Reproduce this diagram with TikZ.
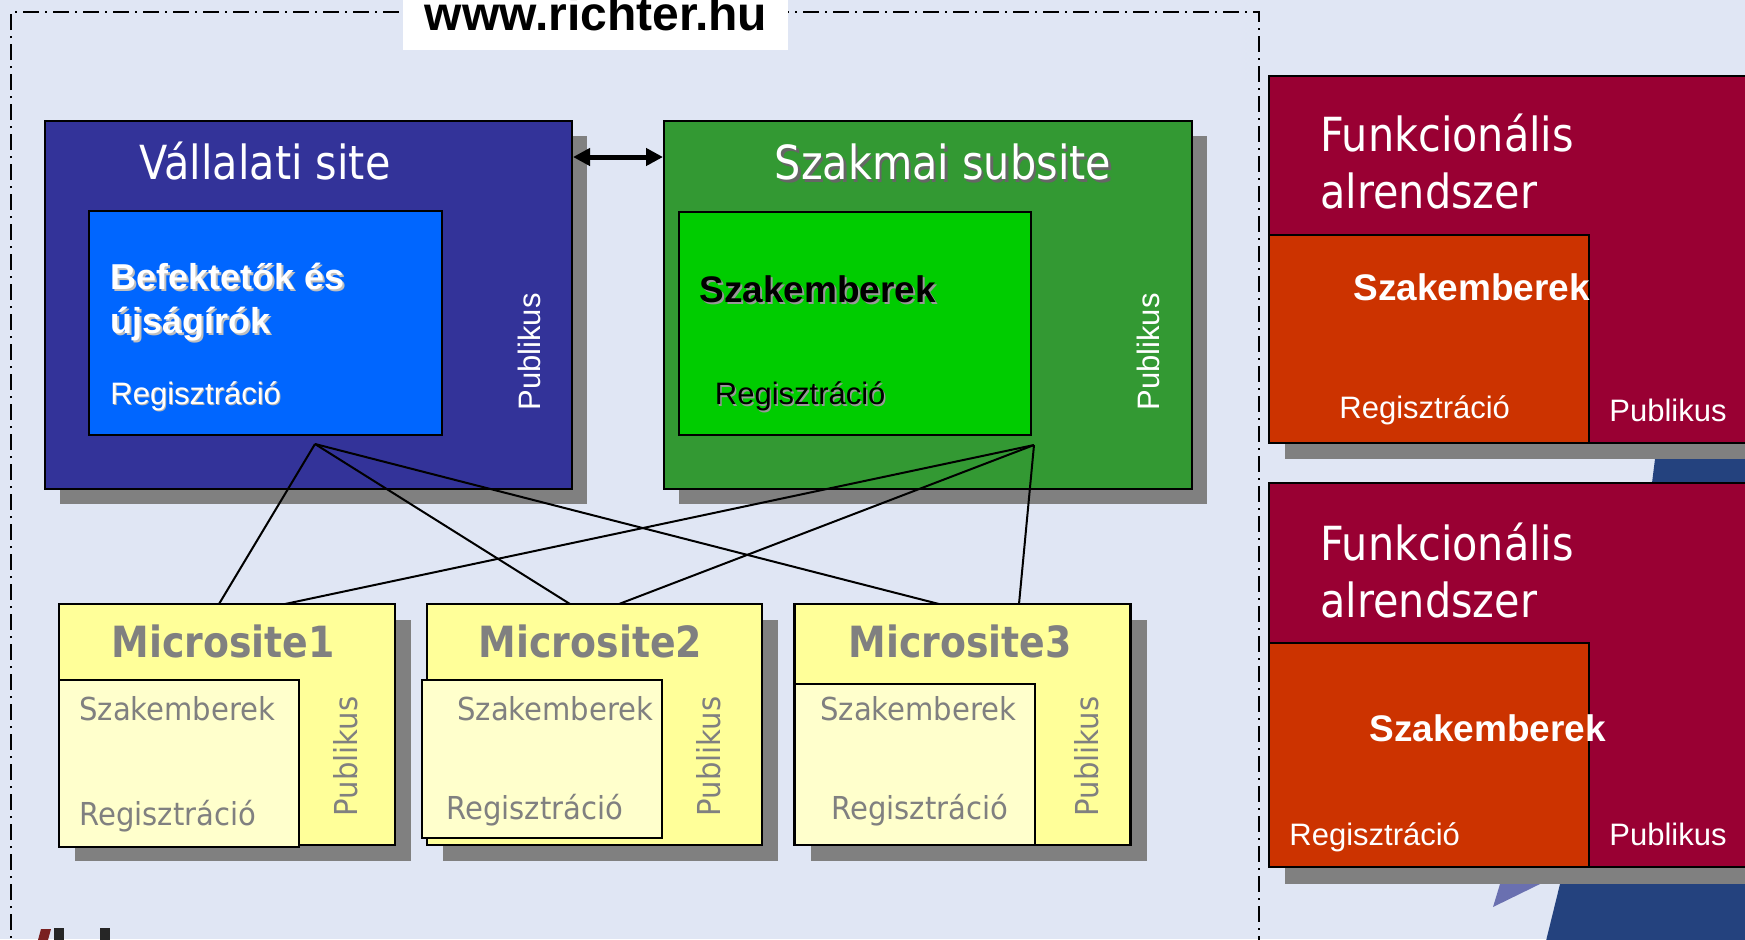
\documentclass[tikz,border=0pt]{standalone}
\usepackage{fontspec}
\setmainfont{Liberation Sans}
\newfontfamily\tah[FakeStretch=0.88]{DejaVu Sans}
\newfontfamily\tahw[FakeStretch=0.92]{DejaVu Sans}
\usetikzlibrary{arrows.meta,fit}
\definecolor{bgc}{HTML}{E0E6F4}
\definecolor{vblue}{HTML}{333399}
\definecolor{lblue}{HTML}{0066FF}
\definecolor{dgreen}{HTML}{339933}
\definecolor{lgreen}{HTML}{00CC00}
\definecolor{yel}{HTML}{FFFF99}
\definecolor{lyel}{HTML}{FFFFCC}
\definecolor{grayt}{HTML}{808080}
\definecolor{shadowc}{HTML}{808080}
\definecolor{crim}{HTML}{990033}
\definecolor{oran}{HTML}{CC3300}
\definecolor{deco}{HTML}{24427E}
\definecolor{decol}{HTML}{6A70B0}
\definecolor{logored}{HTML}{7A2020}
\newcommand{\myfs}[1]{\fontsize{#1}{#1}\selectfont}
\tikzset{
  box/.style={draw=black, line width=1pt, inner sep=0pt},
  ybox/.style={draw=black, line width=1.4pt, inner sep=0pt},
  txt/.style={inner sep=0pt, anchor=base west},
  ttl/.style={txt, text=white, font=\tah\myfs{23.5pt}},
  bigbold/.style={txt, font=\bfseries\myfs{18pt}},
  reg/.style={txt, font=\myfs{15.5pt}},
  pub/.style={inner sep=0pt, rotate=90, anchor=center, font=\myfs{15.5pt}},
  mtitle/.style={txt, text=grayt, font=\tah\bfseries\myfs{21.5pt}},
  mtext/.style={txt, text=grayt, font=\tahw\myfs{15.8pt}},
  mpub/.style={pub, text=grayt, font=\tahw\myfs{15.8pt}},
  conn/.style={draw=black, line width=1pt},
}
\begin{document}
\begin{tikzpicture}[x=0.5pt,y=-0.5pt]
\useasboundingbox (0,0) rectangle (1745,939);
\clip (0,0) rectangle (1745,939);
\fill[bgc] (0,0) rectangle (1745,939);

% decorative background shapes
\fill[deco] (1655,459) -- (1760,459) -- (1760,483) -- (1652,483) -- cycle;
\fill[deco] (1560,884) -- (1760,884) -- (1760,945) -- (1545,945) -- cycle;
\fill[decol] (1500,884) -- (1540,884) -- (1493,907) -- cycle;
\fill[logored] (38,940) -- (41,929) -- (51,929) -- (48,940) -- cycle;
\fill[black!85] (54,928) rectangle (64,940);
\fill[black!85] (100,928) rectangle (110,940);

% dash-dot frame
\draw[line width=1pt, dash pattern=on 8pt off 3pt on 1pt off 3pt] (11,960) -- (11,12) -- (1259,12) -- (1259,960);
\node[fill=white, inner sep=0pt, fit={(403,-5) (788,50)}] (webbox) {};
\node[inner sep=0pt, anchor=base, font=\bfseries\myfs{24pt}] (web) at (596,30) {www.richter.hu};

% Vallalati site
\fill[shadowc] (59.5,136) rectangle (587,503.5);
\node[box, fill=vblue, fit={(44.5,121) (572,488.5)}] (vall) {};
\node[ttl] (valltitle) at (139,179) {Vállalati site};
\node[box, fill=lblue, fit={(89,211) (442,435)}] (vin) {};
\node[bigbold, text=black!25] (bef1s) at (112,291) {Befektetők és};
\node[bigbold, text=black!25] (bef2s) at (112,335) {újságírók};
\node[bigbold, text=white] (bef1) at (110,289) {Befektetők és};
\node[bigbold, text=white] (bef2) at (110,333) {újságírók};
\node[reg, text=black!30] (vregs) at (111,405) {Regisztráció};
\node[reg, text=white] (vreg) at (110,404) {Regisztráció};
\node[pub, text=white] (vpub) at (529,352) {Publikus};

% Szakmai subsite
\fill[shadowc] (679,136) rectangle (1207,503.5);
\node[box, fill=dgreen, fit={(664,121) (1192,488.5)}] (szak) {};
\node[ttl, text=black!60] (szaktitles) at (777,182) {Szakmai subsite};
\node[ttl] (szaktitle) at (774.5,179) {Szakmai subsite};
\node[box, fill=lgreen, fit={(679,211.5) (1030.5,435)}] (sin) {};
\node[bigbold, text=black!40, font=\bfseries\myfs{18.5pt}] (sszaks) at (701,304) {Szakemberek};
\node[bigbold, text=black, font=\bfseries\myfs{18.5pt}] (sszak) at (699,302) {Szakemberek};
\node[reg, text=black!40] (sregs) at (716,406) {Regisztráció};
\node[reg, text=black] (sreg) at (714.5,404) {Regisztráció};
\node[pub, text=white] (spub) at (1148.5,352) {Publikus};

\draw[line width=2.5pt, {Triangle[length=8.5pt,width=8.5pt]}-{Triangle[length=8.5pt,width=8.5pt]}] (vall.east |- 0,157) -- (szak.west |- 0,157);

% Microsites
\fill[shadowc] (75,620) rectangle (411,861);
\node[ybox, fill=yel, fit={(59,604) (395,845)}] (m1) {};
\node[ybox, fill=lyel, fit={(59,680) (299,847)}] (m1in) {};
\node[mtitle] (m1t) at (111,657) {Microsite1};
\node[mtext] (m1s) at (79,720) {Szakemberek};
\node[mtext] (m1r) at (79,825) {Regisztráció};
\node[mpub] (m1p) at (346,756.5) {Publikus};

\fill[shadowc] (443,620) rectangle (778,861);
\node[ybox, fill=yel, fit={(427,604) (762,845)}] (m2) {};
\node[ybox, fill=lyel, fit={(422,680) (662,838)}] (m2in) {};
\node[mtitle] (m2t) at (478.5,657) {Microsite2};
\node[mtext] (m2s) at (457,720) {Szakemberek};
\node[mtext] (m2r) at (446,819) {Regisztráció};
\node[mpub] (m2p) at (709,756.5) {Publikus};

\fill[shadowc] (810.6,620) rectangle (1146.7,861);
\node[ybox, fill=yel, fit={(794.6,604) (1130.7,845)}] (m3) {};
\node[ybox, fill=lyel, fit={(794.6,684) (1035,845)}] (m3in) {};
\node[mtitle] (m3t) at (848,657) {Microsite3};
\node[mtext] (m3s) at (820,720) {Szakemberek};
\node[mtext] (m3r) at (831,819) {Regisztráció};
\node[mpub] (m3p) at (1087,756.5) {Publikus};

% connectors
\coordinate (A) at (315,444);
\coordinate (B) at (1034,445);
\coordinate (m1a) at (219,604);
\coordinate (m1b) at (285,604);
\coordinate (m2a) at (570,604);
\coordinate (m2b) at (619,604);
\coordinate (m3a) at (939,604);
\coordinate (m3b) at (1019,604);
\draw[conn] (A) -- (m1a);
\draw[conn] (A) -- (m2a);
\draw[conn] (A) -- (m3a);
\draw[conn] (B) -- (m1b);
\draw[conn] (B) -- (m2b);
\draw[conn] (B) -- (m3b);

% Right side: Funkcionalis alrendszer (top)
\fill[shadowc] (1285,443) rectangle (1760,459);
\node[box, fill=crim, fit={(1269,75.5) (1760,443)}] (f1) {};
\node[ttl] (f1t1) at (1320,151) {Funkcionális};
\node[ttl] (f1t2) at (1320,208) {alrendszer};
\node[box, fill=oran, fit={(1269,235) (1589,443)}] (f1in) {};
\node[bigbold, text=white, font=\bfseries\myfs{18.5pt}] (f1s) at (1353,300) {Szakemberek};
\node[reg, text=white] (f1r) at (1339,418) {Regisztráció};
\node[reg, text=white] (f1p) at (1609,421) {Publikus};

% Right side: Funkcionalis alrendszer (bottom)
\fill[shadowc] (1285,867) rectangle (1760,884);
\node[box, fill=crim, fit={(1269,483) (1760,867)}] (f2) {};
\node[ttl] (f2t1) at (1320,560) {Funkcionális};
\node[ttl] (f2t2) at (1320,617) {alrendszer};
\node[box, fill=oran, fit={(1269,643) (1589,867)}] (f2in) {};
\node[bigbold, text=white, font=\bfseries\myfs{18.5pt}] (f2s) at (1369,741) {Szakemberek};
\node[reg, text=white] (f2r) at (1289,845) {Regisztráció};
\node[reg, text=white] (f2p) at (1609,845) {Publikus};
\end{tikzpicture}
\end{document}
